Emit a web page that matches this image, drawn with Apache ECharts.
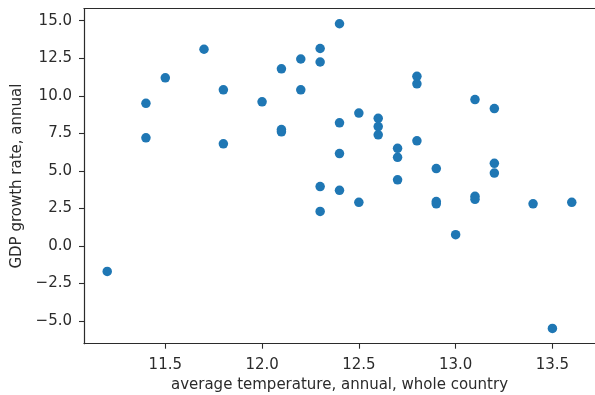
<!DOCTYPE html>
<html>
<head>
<meta charset="utf-8">
<script src="https://cdn.jsdelivr.net/npm/echarts@6/dist/echarts.min.js"></script>
<style>
html,body{margin:0;padding:0;background:#fff;}
#chart{width:595px;height:395px;}
</style>
</head>
<body>
<div id="chart"></div>
<script>
// average temperature, annual, whole country
const temperature = [11.2, 11.4, 11.4, 11.5, 11.7, 11.8, 11.8, 12.0, 12.1, 12.1, 12.1,
  12.2, 12.2, 12.3, 12.3, 12.3, 12.3, 12.4, 12.4, 12.4, 12.4, 12.5, 12.5,
  12.6, 12.6, 12.6, 12.7, 12.7, 12.7, 12.8, 12.8, 12.8, 12.9, 12.9, 12.9,
  13.0, 13.1, 13.1, 13.1, 13.2, 13.2, 13.2, 13.4, 13.5, 13.6];
// GDP growth rate, annual
const growth = [-1.7, 9.5, 7.2, 11.2, 13.1, 10.4, 6.8, 9.6, 11.8, 7.6, 7.75,
  12.45, 10.4, 13.15, 12.25, 3.95, 2.3, 14.8, 8.2, 6.15, 3.7, 8.85, 2.9,
  8.5, 7.95, 7.4, 6.5, 5.9, 4.4, 11.3, 10.8, 7.0, 5.15, 2.95, 2.8,
  0.75, 9.75, 3.3, 3.1, 9.15, 5.5, 4.85, 2.8, -5.5, 2.9];
const xTicks = [11.5, 12.0, 12.5, 13.0, 13.5];
const yTicks = [-5.0, -2.5, 0.0, 2.5, 5.0, 7.5, 10.0, 12.5, 15.0];
const xLabel = 'average temperature, annual, whole country';
const yLabel = 'GDP growth rate, annual';

const points = temperature.map((t, i) => [t, growth[i]]);
const fmt = v => Number(v).toFixed(1).replace('-', '\u2212');
const FONT = 'DejaVu Sans';
const FS = 15;
const TXT = '#2b2b2b';
const LINE = '#2b2b2b';

const chart = echarts.init(document.getElementById('chart'), null, {renderer: 'canvas'});
chart.setOption({
  animation: false,
  backgroundColor: '#fff',
  grid: {left: 84, top: 8.5, width: 511, height: 335.2, containLabel: false, outerBoundsMode: 'none'},
  xAxis: [{
    type: 'value',
    min: 11.08, max: 13.72,
    position: 'bottom',
    splitLine: {show: false},
    axisLine: {show: true, onZero: false, lineStyle: {color: LINE, width: 1.2}},
    axisTick: {show: true, length: 5, customValues: xTicks, lineStyle: {color: LINE, width: 1.1}},
    axisLabel: {show: true, customValues: xTicks, formatter: fmt, margin: 14,
      fontFamily: FONT, fontSize: FS, color: TXT, showMinLabel: true, showMaxLabel: true},
    name: xLabel, nameLocation: 'middle', nameGap: 34,
    nameTextStyle: {fontFamily: FONT, fontSize: FS, color: TXT}
  }, {
    type: 'value',
    min: 11.08, max: 13.72,
    position: 'top',
    splitLine: {show: false},
    axisLine: {show: true, onZero: false, lineStyle: {color: LINE, width: 1.2}},
    axisTick: {show: false},
    axisLabel: {show: false}
  }],
  yAxis: {
    type: 'value',
    min: -6.515, max: 15.815,
    splitLine: {show: false},
    axisLine: {show: true, onZero: false, lineStyle: {color: LINE, width: 1.2}},
    axisTick: {show: true, length: 5, customValues: yTicks, lineStyle: {color: LINE, width: 1.1}},
    axisLabel: {show: true, customValues: yTicks, formatter: fmt, margin: 12,
      fontFamily: FONT, fontSize: FS, color: TXT},
    name: yLabel, nameLocation: 'middle', nameGap: 56,
    nameTextStyle: {fontFamily: FONT, fontSize: FS, color: TXT}
  },
  series: [{
    type: 'scatter',
    xAxisIndex: 0,
    data: points,
    symbol: 'circle',
    symbolSize: 9.5,
    itemStyle: {color: '#1f77b4', opacity: 1}
  }]
});
</script>
</body>
</html>
